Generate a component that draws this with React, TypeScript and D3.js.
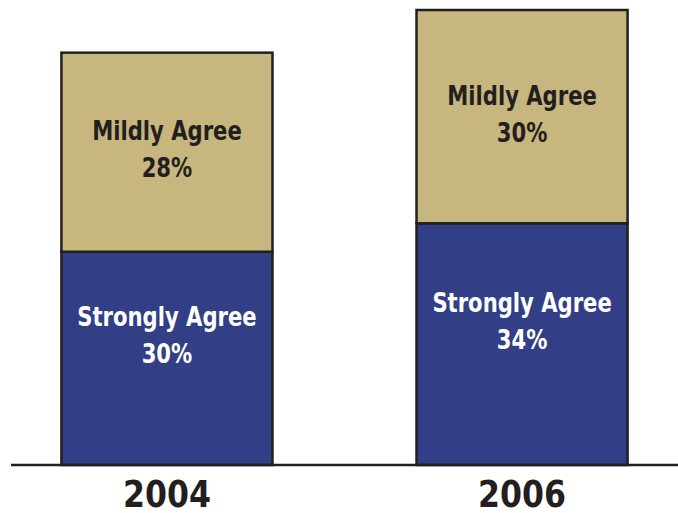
import React from "react";
import * as d3 from "d3";

const years = ["2004", "2006"];
const stronglyAgree = [30, 34];
const mildlyAgree = [28, 30];
const seriesNames = ["Strongly Agree", "Mildly Agree"];

const W = 678;
const H = 513;
const FONT = "'DejaVu Sans Condensed', 'Liberation Sans Narrow', sans-serif";

export default function App() {
  const x = d3
    .scaleBand<string>()
    .domain(years)
    .range([11, 678])
    .paddingInner(0.4056)
    .paddingOuter(0.142);
  const y = d3.scaleLinear().domain([0, 64]).range([465, 10]);

  const rows = years.map((yr, i) => ({ year: yr, strong: stronglyAgree[i], mild: mildlyAgree[i] }));
  const stack = d3.stack<any>().keys(["strong", "mild"]);
  const series = stack(rows);
  const fills = ["#323f87", "#c7b67d"];
  const textFills = ["#ffffff", "#231f20"];
  const textOffset = [-32.5, -12];
  const sx = 0.87;

  return (
    <svg width={W} height={H} style={{ position: "absolute", left: 0, top: 0, background: "#fff" }}>
      {series.map((s, si) => (
        <g key={si}>
          {s.map((d, i) => {
            const x0 = x(years[i])!;
            const bw = x.bandwidth();
            const yTop = y(d[1]);
            const yBot = y(d[0]);
            const cx = x0 + bw / 2;
            const by = (yTop + yBot) / 2 + textOffset[si];
            const val = d[1] - d[0];
            return (
              <g key={i}>
                <rect x={x0} y={yTop} width={bw} height={yBot - yTop} fill={fills[si]} stroke="#231f20" strokeWidth={2.5} />
                <text
                  transform={`translate(${cx},${by}) scale(${sx},1)`}
                  textAnchor="middle"
                  fontFamily={FONT}
                  fontWeight="bold"
                  fontSize={27}
                  fill={textFills[si]}
                >
                  {seriesNames[si]}
                </text>
                <text
                  transform={`translate(${cx},${by + 37}) scale(${sx},1)`}
                  textAnchor="middle"
                  fontFamily={FONT}
                  fontWeight="bold"
                  fontSize={27}
                  fill={textFills[si]}
                >
                  {val}%
                </text>
              </g>
            );
          })}
        </g>
      ))}
      <line x1={11} x2={678} y1={y(0)} y2={y(0)} stroke="#231f20" strokeWidth={2.5} />
      {years.map((yr) => (
        <text
          key={yr}
          transform={`translate(${x(yr)! + x.bandwidth() / 2},507) scale(0.95,1)`}
          textAnchor="middle"
          fontFamily={FONT}
          fontWeight="bold"
          fontSize={37}
          fill="#231f20"
        >
          {yr}
        </text>
      ))}
    </svg>
  );
}
